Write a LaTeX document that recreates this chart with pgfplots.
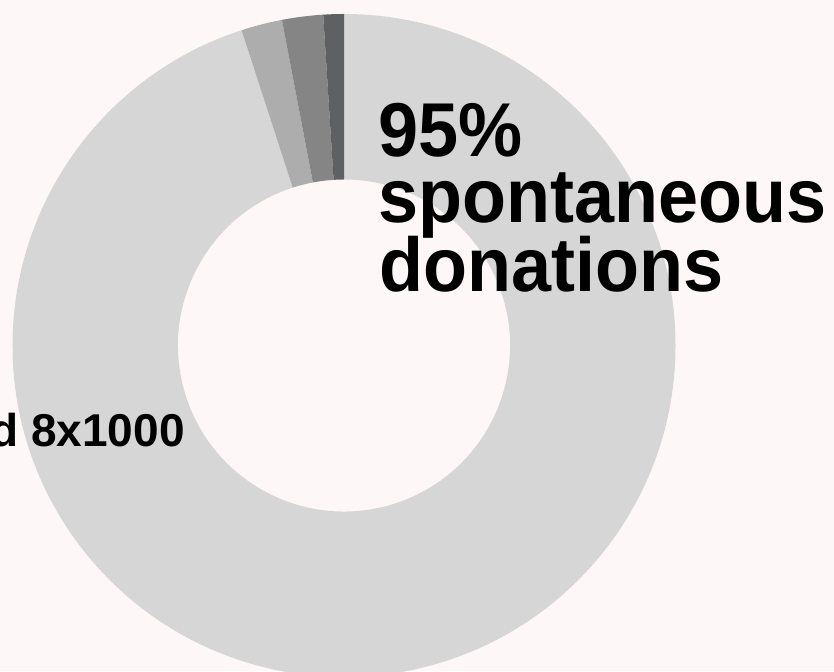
\documentclass[border=0pt]{standalone}
\usepackage{fontspec}
\setmainfont{Liberation Sans}
\usepackage{pgfplots}
\usepackage{pgfplotstable}
\pgfplotsset{compat=1.18}

\definecolor{bg}{HTML}{FDF8F7}
\definecolor{col0}{HTML}{D6D6D6}
\definecolor{col1}{HTML}{ADADAD}
\definecolor{col2}{HTML}{858585}
\definecolor{col3}{HTML}{5F6062}

% share of donations, clockwise from 12 o'clock
\pgfplotstableread{
value
95
2
2
1
}\donations

\begin{document}
\begin{tikzpicture}
\useasboundingbox (0,0) rectangle (834pt,671pt);
\fill[bg] (0,0) rectangle (834pt,671pt);
\begin{axis}[
    at={(0,0)}, anchor=south west,
    scale only axis,
    width=834pt, height=671pt,
    xmin=0, xmax=834, ymin=0, ymax=671,
    hide axis,
    clip=false,
  ]
\def\cx{344}\def\cy{325.5}\def\Ro{331.5}\def\Ri{166}
\xdef\acc{90}
\pgfplotsforeachungrouped \i in {0,...,3}{%
  \pgfplotstablegetelem{\i}{value}\of\donations
  \pgfmathsetmacro\aend{\acc-3.6*\pgfplotsretval}%
  \edef\cmd{\noexpand\fill[col\i]
    (axis cs:{\cx+\Ri*cos(\acc)},{\cy+\Ri*sin(\acc)}) --
    (axis cs:{\cx+\Ro*cos(\acc)},{\cy+\Ro*sin(\acc)})
    arc[start angle=\acc, end angle=\aend, radius=\Ro pt] --
    (axis cs:{\cx+\Ri*cos(\aend)},{\cy+\Ri*sin(\aend)})
    arc[start angle=\aend, end angle=\acc, radius=\Ri pt] -- cycle;}%
  \cmd
  \xdef\acc{\aend}%
}
\tikzset{big/.style={anchor=base west, inner sep=0pt,
  font=\fontsize{72}{72}\selectfont\bfseries}}
\node[big] at (axis cs:378,514) {\scalebox{1}[1.06]{95\%}};
\node[big] at (axis cs:378,448) {\scalebox{1}[1.06]{spontaneous}};
\node[big] at (axis cs:379,379) {\scalebox{1}[1.06]{donations}};
\node[anchor=base east, inner sep=0pt, font=\fontsize{46}{46}\selectfont\bfseries]
  at (axis cs:185,224) {5x1000 and 8x1000};
\end{axis}
\end{tikzpicture}
\end{document}
